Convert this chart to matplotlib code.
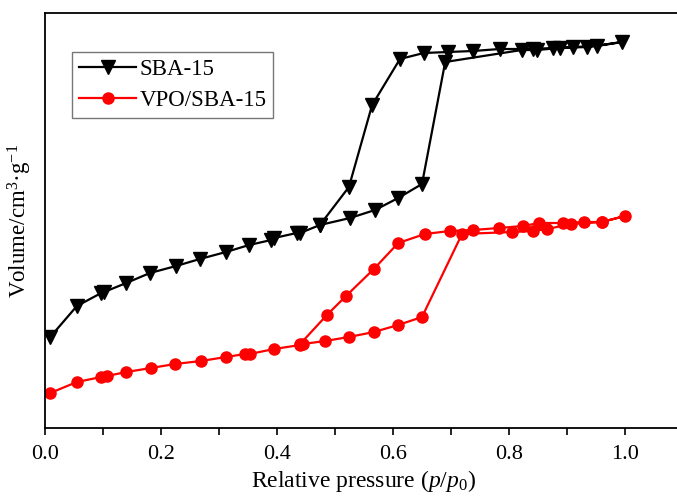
import matplotlib
matplotlib.use("Agg")
import matplotlib.pyplot as plt
from matplotlib.ticker import FixedLocator

plt.rcParams['font.family'] = ['Liberation Serif', 'DejaVu Serif']
plt.rcParams['mathtext.fontset'] = 'custom'
plt.rcParams['mathtext.rm'] = 'Liberation Serif'
plt.rcParams['mathtext.it'] = 'Liberation Serif:italic'

# N2 sorption isotherms (relative pressure, adsorbed volume in arbitrary units)
sba_ads_p = [0.009, 0.055, 0.097, 0.102, 0.140, 0.181, 0.226, 0.267, 0.312, 0.352,
             0.390, 0.395, 0.434, 0.440, 0.474, 0.526, 0.569, 0.609, 0.650, 0.690,
             0.822, 0.848, 0.888, 0.935, 0.995]
sba_ads_v = [91, 122, 135, 136, 145, 155, 162, 169, 176, 183,
             188, 190, 195, 195, 203, 210, 218, 230, 244, 366,
             378, 378, 380, 381, 386]
sba_des_p = [0.995, 0.952, 0.910, 0.875, 0.841, 0.784, 0.738, 0.695, 0.653, 0.612,
             0.564, 0.524, 0.474]
sba_des_v = [386, 382, 381, 380, 379, 379, 377, 376, 375, 369,
             323, 241, 203]

vpo_ads_p = [0.009, 0.055, 0.097, 0.107, 0.140, 0.183, 0.224, 0.269, 0.312, 0.345,
             0.353, 0.395, 0.440, 0.445, 0.483, 0.524, 0.567, 0.609, 0.650, 0.719,
             0.805, 0.841, 0.866, 0.907, 0.960, 1.000]
vpo_ads_v = [35, 46, 51, 52, 56, 60, 64, 67, 71, 74,
             74, 79, 83, 84, 87, 91, 96, 103, 111, 194,
             196, 197, 199, 204, 206, 212]
vpo_des_p = [1.000, 0.960, 0.929, 0.893, 0.852, 0.824, 0.783, 0.738, 0.698, 0.655,
             0.609, 0.567, 0.519, 0.486, 0.440]
vpo_des_v = [212, 206, 206, 205, 205, 202, 200, 198, 197, 194,
             185, 159, 132, 113, 84]

sba_p = sba_ads_p + sba_des_p[1:]
sba_v = sba_ads_v + sba_des_v[1:]
vpo_p = vpo_ads_p + vpo_des_p[1:]
vpo_v = vpo_ads_v + vpo_des_v[1:]

fig = plt.figure(figsize=(6.77, 4.96), dpi=100)
ax = fig.add_axes([45 / 677, 68 / 496, 638 / 677, 415 / 496])

ax.plot(sba_p, sba_v, color='black', lw=1.6, marker='v', ms=9.5,
        label='SBA-15')
ax.plot(vpo_p, vpo_v, color='#ff0000', lw=1.6, marker='o', ms=8,
        label='VPO/SBA-15')

ax.set_xlim(0, 1.1)
ax.set_ylim(0, 415)
ax.xaxis.set_major_locator(FixedLocator([0.0, 0.2, 0.4, 0.6, 0.8, 1.0]))
ax.xaxis.set_minor_locator(FixedLocator([0.1, 0.3, 0.5, 0.7, 0.9, 1.1]))
ax.set_xticklabels(['0.0', '0.2', '0.4', '0.6', '0.8', '1.0'])
ax.tick_params(axis='x', which='both', direction='out', length=5, width=1.2,
               labelsize=16, pad=7, top=False)
ax.set_yticks([])
ax.spines['right'].set_visible(False)
for s in ('left', 'bottom', 'top'):
    ax.spines[s].set_linewidth(1.3)

ax.set_xlabel('Relative pressure ($p$/$p_0$)', fontsize=17, labelpad=3)
ax.set_ylabel('Volume/cm$^3$·g$^{-1}$', fontsize=16.5, labelpad=8)

leg = ax.legend(loc='upper left', bbox_to_anchor=(27 / 638, 1 - 39 / 415),
                fontsize=16.5, frameon=True, fancybox=False, edgecolor='#555555',
                handlelength=2.5, handletextpad=0.15, borderpad=0.3,
                labelspacing=0.45, borderaxespad=0)
leg.get_frame().set_linewidth(1.0)

fig.savefig('out.png', dpi=100)
